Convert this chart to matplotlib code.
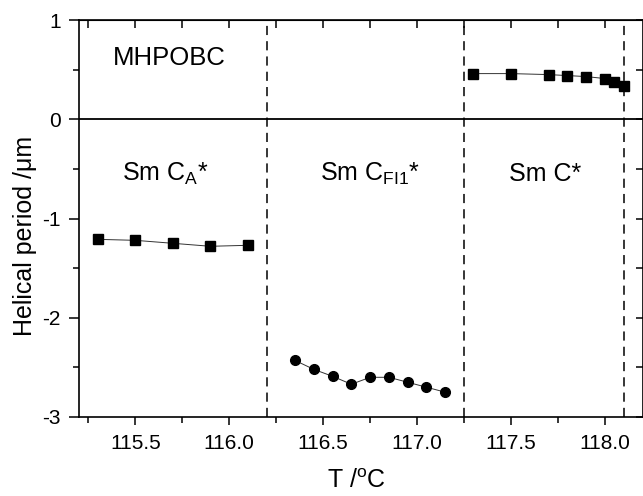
import matplotlib
matplotlib.use("Agg")
from matplotlib import pyplot as plt
from matplotlib.ticker import MultipleLocator, FormatStrFormatter

plt.rcParams['font.family'] = ['Liberation Sans', 'DejaVu Sans']
plt.rcParams['mathtext.fontset'] = 'custom'
plt.rcParams['mathtext.rm'] = 'Liberation Sans'
plt.rcParams['mathtext.it'] = 'Liberation Sans:italic'
plt.rcParams['mathtext.default'] = 'regular'
plt.rcParams['axes.unicode_minus'] = False

# helical period of MHPOBC in each phase (negative = left-handed helix)
t_sma = [115.3, 115.5, 115.7, 115.9, 116.1]
p_sma = [-1.21, -1.22, -1.25, -1.28, -1.27]

t_fi1 = [116.35, 116.45, 116.55, 116.65, 116.75, 116.85, 116.95, 117.05, 117.15]
p_fi1 = [-2.43, -2.52, -2.59, -2.67, -2.60, -2.60, -2.65, -2.70, -2.75]

t_smc = [117.3, 117.5, 117.7, 117.8, 117.9, 118.0, 118.05, 118.1]
p_smc = [0.46, 0.46, 0.45, 0.44, 0.43, 0.41, 0.38, 0.34]

# phase transition temperatures
t_trans = [116.2, 117.25, 118.1]

phase_names = [r'Sm C$_{\mathrm{A}}$*', r'Sm C$_{\mathrm{FI1}}$*', 'Sm C*']
phase_x = [115.66, 116.75, 117.68]

fig = plt.figure(figsize=(6.43, 4.96), dpi=100)
ax = fig.add_axes([79 / 643, 1 - 417 / 496, 563.5 / 643, 397 / 496])

line_kw = dict(color='#333333', lw=0.7, markeredgecolor='k', markerfacecolor='k')
ax.plot(t_sma, p_sma, marker='s', ms=6.5, **line_kw)
ax.plot(t_fi1, p_fi1, marker='o', ms=7, **line_kw)
ax.plot(t_smc, p_smc, marker='s', ms=6.5, **line_kw)

for t in t_trans:
    ax.axvline(t, color='k', lw=1.1, dashes=(6, 4), zorder=1)
ax.axhline(0, color='k', lw=1.3, zorder=1)

ax.text(115.68, 0.544, 'MHPOBC', fontsize=18.5, ha='center', va='baseline')
for x, name in zip(phase_x, phase_names):
    ax.text(x, -0.62, name, fontsize=18, ha='center', va='baseline')

ax.set_xlim(115.2, 118.2)
ax.set_ylim(-3, 1)

ax.xaxis.set_major_locator(MultipleLocator(0.5))
ax.xaxis.set_minor_locator(MultipleLocator(0.25))
ax.yaxis.set_major_locator(MultipleLocator(1))
ax.yaxis.set_minor_locator(MultipleLocator(0.5))
ax.xaxis.set_major_formatter(FormatStrFormatter('%.1f'))

ax.tick_params(which='both', labelsize=15, width=1.1)
ax.tick_params(axis='x', which='major', direction='out', length=6, pad=6)
ax.tick_params(axis='x', which='minor', direction='out', length=4)
ax.tick_params(axis='y', which='major', direction='out', length=7, pad=6)
ax.tick_params(axis='y', which='minor', direction='out', length=4)

for side in ['left', 'right', 'top', 'bottom']:
    ax.spines[side].set_linewidth(1.2)

# inward ticks on the top and right edges
top = ax.secondary_xaxis('top')
top.xaxis.set_major_locator(MultipleLocator(0.25))
top.tick_params(direction='in', length=6, width=1.1, labeltop=False)
right = ax.secondary_yaxis('right')
right.yaxis.set_major_locator(MultipleLocator(0.5))
right.tick_params(direction='in', length=5, width=1.1, labelright=False)

ax.set_xlabel(r'T /$^{\mathrm{o}}$C', fontsize=18)
ax.set_ylabel('Helical period /\u03bcm', fontsize=18)
ax.xaxis.set_label_coords(0.493, -0.131)
ax.yaxis.set_label_coords(-0.0745, 0.456)

fig.savefig('out.png', dpi=100)
